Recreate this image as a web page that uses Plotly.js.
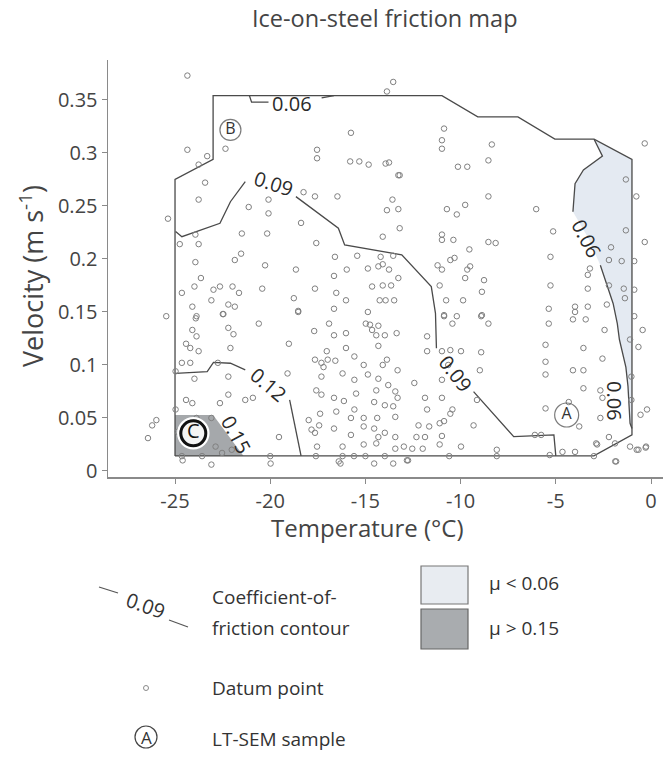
<!DOCTYPE html>
<html><head><meta charset="utf-8">
<script src="https://cdn.plot.ly/plotly-3.0.1.min.js"></script>
<style>body{margin:0;background:#fff}#chart{width:663px;height:757px}</style>
</head><body><div id="chart"></div>
<script>
// ---------- data ----------
const tempTicks = [-25, -20, -15, -10, -5, 0];
const tempTickText = ['-25', '-20', '-15', '-10', '-5', '0'];
const velTicks = [0, 0.05, 0.1, 0.15, 0.2, 0.25, 0.3, 0.35];
const velTickText = ['0', '0.05', '0.1', '0.15', '0.2', '0.25', '0.3', '0.35'];

// outer boundary of the map (temperature °C, velocity m/s)
const boundaryT = [-25, -25, -23, -23, -10.98, -9.10, -6.99, -5.05, -2.99, -1.0, -1.0, -3.0, -25];
const boundaryV = [0.0142, 0.275, 0.294, 0.354, 0.354, 0.334, 0.334, 0.313, 0.313, 0.294, 0.034, 0.0142, 0.0142];

// mu < 0.06 region
const lowT = [-2.99, -1.0, -1.0, -1.1, -1.21, -1.32, -1.66, -1.77, -1.99, -2.66, -3.3, -4.10, -3.99, -3.55, -2.55, -2.99];
const lowV = [0.313, 0.294, 0.040, 0.045, 0.080, 0.098, 0.124, 0.139, 0.158, 0.194, 0.220, 0.2446, 0.271, 0.284, 0.297, 0.313];

// mu > 0.15 region
const highT = [-25, -25, -23, -21.4, -25];
const highV = [0.0142, 0.0528, 0.0528, 0.0142, 0.0142];

// contour segments (gaps where labels sit)
const c006topT = [[-21.09, -20.98, -20.09], [-17.3, -16.65]];
const c006topV = [[0.354, 0.348, 0.348], [0.352, 0.354]];
const c009T = [[-24.97, -24.64, -22.64, -22.09, -21.31],
               [-18.65, -16.42, -16.09, -13.09, -11.54, -11.32, -11.27],
               [-9.32, -7.21, -5.10, -5.0]];
const c009V = [[0.2258, 0.221, 0.2337, 0.254, 0.273],
               [0.2588, 0.229, 0.2132, 0.2038, 0.1739, 0.1487, 0.1157],
               [0.0748, 0.0324, 0.034, 0.0142]];
const c012T = [[-24.97, -23.31, -22.98, -22.09, -21.31], [-18.98, -18.87, -18.38]];
const c012V = [[0.0921, 0.0937, 0.1025, 0.1016, 0.0953], [0.067, 0.0575, 0.0142]];
const c006rT = [[-2.99, -2.55, -3.55, -3.99, -4.10], [-2.66, -1.99, -1.77, -1.66, -1.32, -1.21, -1.1, -1.0]];
const c006rV = [[0.313, 0.297, 0.284, 0.271, 0.2446], [0.194, 0.158, 0.139, 0.124, 0.098, 0.080, 0.045, 0.040]];

// contour labels
const contourLabels = ['0.06', '0.09', '0.09', '0.12', '0.15', '0.06', '0.06'];
const contourLabelT = [-18.87, -19.81, -10.26, -20.09, -21.8, -3.38, -1.89];
const contourLabelV = [0.347, 0.2714, 0.0922, 0.082, 0.034, 0.2195, 0.066];

// LT-SEM samples
const sampleNames = ['A', 'B', 'C'];
const sampleT = [-4.43, -22.09, -24.04];
const sampleV = [0.0528, 0.3217, 0.0355];

// datum points
const datumT = [
-24.35,-13.54,-13.87,-24.35,-23.31,-23.76,-22.35,-15.76,-17.54,-17.54,-15.80,-15.32,-14.83,-13.94,-13.76,-13.20,-10.87,-10.98,-10.98,-8.36,-8.54,-10.14,-9.65,-0.33,
-23.42,-23.76,-25.37,-23.93,-24.75,-23.76,-21.13,-20.09,-20.09,-21.49,-20.16,-18.25,-17.65,-16.47,-18.38,-17.58,-13.58,-13.87,-13.27,-13.20,-14.09,-13.27,-10.72,-10.20,-9.76,-8.54,-10.98,-10.98,-10.38,-9.54,-8.54,-8.16,-6.03,-5.14,-5.28,-5.28,-5.37,
-1.32,-0.77,-1.32,-0.33,-2.10,-2.21,-1.54,-0.88,-3.32,-3.21,-2.21,-1.43,-0.88,-1.37,-3.32,-3.32,-3.99,-2.32,
-21.53,-21.86,-20.27,-18.65,-23.93,-23.64,-23.98,-24.64,-22.64,-22.98,-23.09,-21.98,-21.64,-22.20,-21.86,-22.46,-24.09,-23.87,-20.42,-17.65,-18.76,-16.53,-16.65,-16.02,-18.53,
-16.60,-15.98,-16.65,-15.43,-14.87,-14.20,-14.09,-14.32,-13.76,-13.54,-13.27,-14.65,-14.09,-13.65,-14.25,-13.94,-13.49,-14.87,
-11.10,-11.21,-10.98,-10.54,-10.32,-9.65,-9.50,-9.76,-8.77,-8.88,-9.87,-10.76,-8.92,-10.20,-10.87,
-25.46,-23.91,-22.49,-18.53,-24.09,-23.87,-22.20,-21.93,-20.60,-24.42,-24.20,-23.76,-22.09,-22.75,-24.64,-24.20,-23.98,-24.42,-24.09,-22.64,-22.20,-21.31,-20.91,-22.20,-19.02,-19.09,
-17.69,-16.91,-16.65,-16.02,-16.02,-17.03,-17.65,-17.31,-16.98,-16.58,-17.20,-15.58,-14.98,-14.76,-14.32,-14.65,-14.43,-13.98,-13.36,-14.32,-13.87,-14.09,-13.31,-15.09,
-16.20,-15.58,-14.87,-14.32,-13.80,-14.43,-17.31,-17.58,-17.31,-16.65,-16.13,-15.49,-13.43,-13.31,-14.54,-13.98,-13.54,-15.58,-17.38,-16.53,-15.76,-15.09,-14.38,-13.43,
-15.09,-14.54,-13.98,-14.32,-13.43,-17.43,-17.83,-16.65,-15.76,-17.54,-16.20,-15.09,-14.43,-13.43,-12.98,-12.54,-11.99,-11.10,-9.98,-10.98,-12.32,-11.87,-12.21,-11.65,
-11.10,-10.87,-10.54,-10.43,-9.32,-11.87,-10.98,-11.76,-12.43,-10.98,-10.65,-11.76,-10.98,-10.54,-9.98,-8.92,-8.99,-8.54,-10.43,-10.87,-8.88,-11.76,-9.14,-8.10,
-6.10,-5.77,-5.54,-4.32,-3.77,-5.32,-4.65,-3.99,-2.88,-2.66,-2.21,-1.88,-1.10,-0.66,-0.26,-0.21,-0.55,-1.03,-1.03,-2.66,-2.55,
-5.54,-5.54,-5.54,-3.55,-4.10,-3.55,-2.55,-3.55,-5.37,-4.10,-3.43,-2.44,-1.10,-0.66,-0.44,-0.88,-3.99,
-24.97,-24.97,-26.42,-25.98,-26.2,-19.98,-23.09,-19.54,-17.98,-17.65,-16.31,-14.54,-13.54,-12.76,
-20.0,-17.6,-16.2,-15.6,-15.0,-13.98,-10.6,-8.1,-3.0,
-24.64,-23.58,-23.87,-23.09,-22.87,-22.53,-22.02,-24.42,-24.86,
-2.83,-1.89,-0.75,-0.28,-1.83,-24.6,-16.40,-12.82
];
const datumV = [
0.373,0.367,0.358,0.303,0.297,0.289,0.304,0.319,0.303,0.295,0.292,0.292,0.289,0.290,0.291,0.279,0.323,0.312,0.304,0.308,0.293,0.287,0.287,0.309,
0.272,0.256,0.238,0.223,0.214,0.214,0.249,0.256,0.243,0.224,0.224,0.263,0.259,0.259,0.234,0.215,0.256,0.246,0.247,0.229,0.221,0.279,0.247,0.242,0.251,0.259,0.223,0.218,0.218,0.209,0.216,0.215,0.247,0.226,0.202,0.175,0.153,
0.275,0.259,0.227,0.216,0.211,0.199,0.198,0.198,0.185,0.191,0.175,0.172,0.171,0.163,0.172,0.155,0.155,0.157,
0.205,0.199,0.194,0.190,0.197,0.182,0.174,0.168,0.174,0.171,0.161,0.174,0.168,0.157,0.155,0.148,0.155,0.146,0.172,0.172,0.163,0.168,0.153,0.161,0.151,
0.202,0.190,0.184,0.203,0.191,0.202,0.195,0.193,0.190,0.203,0.182,0.174,0.175,0.175,0.161,0.161,0.161,0.150,
0.175,0.194,0.190,0.199,0.201,0.190,0.193,0.182,0.180,0.169,0.161,0.161,0.146,0.146,0.146,
0.146,0.144,0.148,0.150,0.133,0.127,0.135,0.129,0.139,0.120,0.116,0.113,0.116,0.102,0.102,0.102,0.087,0.067,0.064,0.064,0.072,0.067,0.069,0.089,0.120,0.092,
0.132,0.139,0.128,0.130,0.116,0.113,0.105,0.102,0.105,0.104,0.098,0.108,0.139,0.138,0.137,0.133,0.128,0.128,0.130,0.118,0.105,0.100,0.095,0.100,
0.092,0.086,0.091,0.087,0.081,0.076,0.089,0.076,0.072,0.069,0.066,0.073,0.075,0.069,0.065,0.062,0.061,0.058,0.054,0.056,0.050,0.050,0.050,0.051,
0.042,0.040,0.036,0.032,0.032,0.043,0.039,0.040,0.034,0.023,0.023,0.025,0.026,0.021,0.023,0.021,0.021,0.025,0.023,0.033,0.032,0.032,0.043,0.042,
0.045,0.047,0.054,0.058,0.043,0.069,0.069,0.058,0.083,0.086,0.100,0.113,0.113,0.114,0.113,0.112,0.095,0.139,0.139,0.147,0.147,0.127,0.067,0.020,
0.034,0.034,0.059,0.065,0.042,0.015,0.018,0.018,0.026,0.050,0.032,0.009,0.023,0.020,0.023,0.058,0.053,0.089,0.067,0.076,0.069,
0.119,0.103,0.091,0.116,0.095,0.095,0.106,0.078,0.139,0.143,0.143,0.133,0.124,0.117,0.133,0.146,0.150,
0.094,0.058,0.031,0.048,0.043,0.007,0.006,0.032,0.048,0.036,0.007,0.007,0.007,0.010,
0.014,0.014,0.014,0.014,0.014,0.014,0.014,0.014,0.014,
0.014,0.014,0.050,0.050,0.023,0.017,0.020,0.026,0.037,
0.025,0.026,0.020,0.022,0.009,0.010,0.009,0.010
];

// ---------- drawing ----------
const W = 663, H = 757;
const FONT = 'Open Sans, Noto Sans, sans-serif';
const LINE = '#4a4a4a';
const px = x => x / W;
const py = y => 1 - y / H;

const traces = [];
traces.push({x: lowT, y: lowV, mode: 'lines', fill: 'toself', fillcolor: '#e4eaf2', line: {width: 0}, hoverinfo: 'skip'});
traces.push({x: highT, y: highV, mode: 'lines', fill: 'toself', fillcolor: '#a5a8ab', line: {width: 0}, hoverinfo: 'skip'});
traces.push({x: boundaryT, y: boundaryV, mode: 'lines', line: {color: LINE, width: 1.3}, hoverinfo: 'skip'});
function addSegs(T, V) {
  for (let i = 0; i < T.length; i++) traces.push({x: T[i], y: V[i], mode: 'lines', line: {color: LINE, width: 1.3}, hoverinfo: 'skip'});
}
addSegs(c006topT, c006topV); addSegs(c009T, c009V); addSegs(c012T, c012V); addSegs(c006rT, c006rV);
traces.push({x: datumT, y: datumV, mode: 'markers', marker: {symbol: 'circle-open', size: 5.5, color: '#808080', line: {width: 1}}, hoverinfo: 'skip'});
// samples A, B (open circles) and C (bold ring)
traces.push({x: sampleT.slice(0, 2), y: sampleV.slice(0, 2), mode: 'markers+text', text: sampleNames.slice(0, 2),
  textposition: 'middle center', textfont: {family: FONT, size: 16, color: '#333'},
  marker: {symbol: 'circle-open', size: [24, 21], color: '#444', line: {width: 1.2}}, hoverinfo: 'skip'});
traces.push({x: sampleT.slice(2), y: sampleV.slice(2), mode: 'markers', marker: {symbol: 'circle', size: 30, color: 'rgba(0,0,0,0)', line: {color: '#ffffff', width: 2.5}}, hoverinfo: 'skip'});
traces.push({x: sampleT.slice(2), y: sampleV.slice(2), mode: 'markers+text', text: sampleNames.slice(2),
  textposition: 'middle center', textfont: {family: FONT, size: 20, color: '#111'},
  marker: {symbol: 'circle', size: 25, color: '#f4f4f4', line: {color: '#111', width: 3}}, hoverinfo: 'skip'});

const labelAngles = [0, 18, 52, 40, 62, 63, 90];
const annotations = contourLabels.map((t, i) => ({
  x: contourLabelT[i], y: contourLabelV[i], xref: 'x', yref: 'y', xanchor: 'center', yanchor: 'middle', text: t, showarrow: false,
  textangle: labelAngles[i], font: {family: FONT, size: 20, color: '#2a2a2a'}
}));

function note(x, y, text, font, extra) {
  return Object.assign({x: px(x), y: py(y), xref: 'paper', yref: 'paper', xanchor: 'center', yanchor: 'middle',
    text: text, showarrow: false, font: font}, extra || {});
}
// title and axis titles
annotations.push(note(385, 18, 'Ice-on-steel friction map', {family: FONT, size: 23.5, color: '#444'}));
annotations.push(note(367, 527, 'Temperature (°C)', {family: FONT, size: 24, color: '#444'}));
annotations.push(note(31, 276, 'Velocity (m s<sup>-1</sup>)', {family: FONT, size: 27, color: '#444'}, {textangle: -90}));

// legend
const legFont = {family: FONT, size: 19, color: '#333'};
annotations.push(note(146, 605, '0.09', {family: FONT, size: 20, color: '#333'}, {textangle: 20}));
annotations.push(note(210, 597, 'Coefficient-of-', legFont, {xanchor: 'left'}));
annotations.push(note(210, 628, 'friction contour', legFont, {xanchor: 'left'}));
annotations.push(note(487, 583, 'μ < 0.06', legFont, {xanchor: 'left'}));
annotations.push(note(487, 628, 'μ > 0.15', legFont, {xanchor: 'left'}));
annotations.push(note(210, 688, 'Datum point', legFont, {xanchor: 'left'}));
annotations.push(note(210, 739, 'LT-SEM sample', legFont, {xanchor: 'left'}));
annotations.push(note(146, 737, 'A', {family: FONT, size: 17, color: '#333'}));

const shapes = [
  {type: 'line', xref: 'paper', yref: 'paper', x0: px(99), y0: py(587), x1: px(118), y1: py(593), line: {color: '#555', width: 1.2}},
  {type: 'line', xref: 'paper', yref: 'paper', x0: px(169), y0: py(620), x1: px(188), y1: py(627), line: {color: '#555', width: 1.2}},
  {type: 'rect', xref: 'paper', yref: 'paper', x0: px(421), y0: py(566), x1: px(468), y1: py(604), fillcolor: '#e8ecf1', line: {color: '#777', width: 1.2}},
  {type: 'rect', xref: 'paper', yref: 'paper', x0: px(421), y0: py(609), x1: px(468), y1: py(649), fillcolor: '#a9acaf', line: {color: '#666', width: 1.2}},
  {type: 'circle', xref: 'paper', yref: 'paper', x0: px(143.5), y0: py(685.5), x1: px(148.5), y1: py(690.5), line: {color: '#8a8a8a', width: 1}},
  {type: 'circle', xref: 'paper', yref: 'paper', x0: px(135), y0: py(726), x1: px(157), y1: py(748), line: {color: '#444', width: 1.2}}
];

const axisFont = {family: FONT, size: 20, color: '#444'};
const layout = {
  width: W, height: H, margin: {l: 0, r: 0, t: 0, b: 0},
  paper_bgcolor: '#fff', plot_bgcolor: '#fff', showlegend: false,
  xaxis: {domain: [108 / W, 1], range: [-28.52, 0.63], tickvals: tempTicks, ticktext: tempTickText,
    showgrid: false, zeroline: false, showline: true, linecolor: '#8a8a8a', linewidth: 1.5,
    ticks: 'outside', ticklen: 5, tickcolor: '#8a8a8a', tickfont: axisFont},
  yaxis: {domain: [280 / H, 697 / H], range: [-0.0057, 0.3877], tickvals: velTicks, ticktext: velTickText,
    showgrid: false, zeroline: false, showline: true, linecolor: '#8a8a8a', linewidth: 1.5,
    ticks: 'outside', ticklen: 5, tickcolor: '#8a8a8a', tickfont: axisFont},
  annotations: annotations, shapes: shapes
};
Plotly.newPlot('chart', traces, layout, {staticPlot: true, displayModeBar: false});
</script></body></html>
